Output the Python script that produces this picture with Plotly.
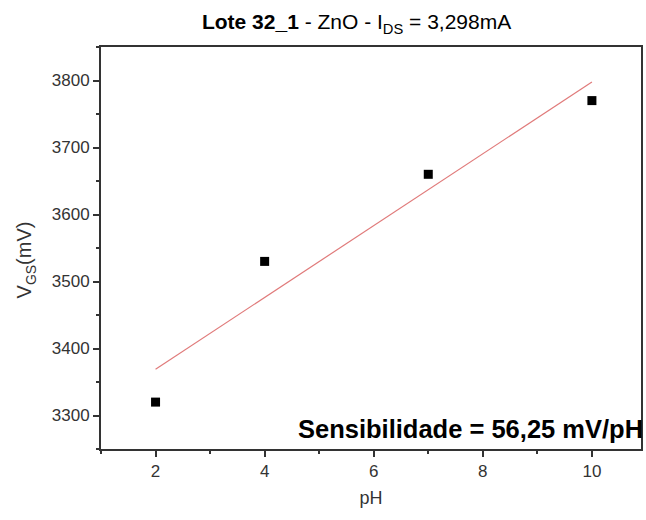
import numpy as np
import plotly.graph_objects as go

# Measured gate voltage versus buffer pH
ph = [2, 4, 7, 10]
vgs_mv = [3320, 3530, 3660, 3770]

x_ticks = [2, 4, 6, 8, 10]
y_ticks = [3300, 3400, 3500, 3600, 3700, 3800]

title_bold = "Lote 32_1"
title_rest = " - ZnO - I<sub>DS</sub> = 3,298mA"
sens_text = "Sensibilidade = 56,25 mV/pH"

# Linear regression over the measured points
slope, intercept = np.polyfit(ph, vgs_mv, 1)
fit_x = [min(ph), max(ph)]
fit_y = [slope * v + intercept for v in fit_x]

FONT = "Liberation Sans, Arial, sans-serif"
AX = "#333333"

fig = go.Figure()
fig.add_trace(go.Scatter(
    x=fit_x, y=fit_y, mode="lines",
    line=dict(color="#e07a7a", width=1.2),
    hoverinfo="skip", showlegend=False,
))
fig.add_trace(go.Scatter(
    x=ph, y=vgs_mv, mode="markers",
    marker=dict(symbol="square", size=9, color="black"),
    showlegend=False,
))

axis_common = dict(
    showline=True, linecolor=AX, linewidth=2, mirror=True,
    ticks="outside", ticklen=6, tickwidth=1.5, tickcolor=AX,
    showgrid=False, zeroline=False,
    tickfont=dict(family=FONT, size=17, color=AX),
)

fig.update_xaxes(
    range=[1, 10.9], tickvals=x_ticks,
    minor=dict(ticks="outside", ticklen=3, dtick=1, tickcolor=AX, tickwidth=1.5),
    title=dict(text="pH", font=dict(family=FONT, size=18, color=AX), standoff=11),
    **axis_common,
)
fig.update_yaxes(
    range=[3250, 3850], tickvals=y_ticks,
    minor=dict(ticks="outside", ticklen=3, dtick=50, tickcolor=AX, tickwidth=1.5),
    **axis_common,
)

fig.add_annotation(
    text="V<sub>GS</sub>(mV)", textangle=-90,
    xref="paper", yref="paper", x=-0.14, y=0.47,
    xanchor="center", yanchor="middle", showarrow=False,
    font=dict(family=FONT, size=20, color=AX),
)
fig.add_annotation(
    text=sens_text,
    xref="paper", yref="paper", x=1.005, y=0.05,
    xanchor="right", yanchor="middle", showarrow=False, borderpad=0,
    font=dict(family=FONT, size=25.5, color="black", weight="bold"),
)

fig.update_layout(
    width=646, height=520,
    margin=dict(l=101, r=3, t=47, b=71),
    paper_bgcolor="white", plot_bgcolor="white",
    title=dict(
        text=f"<b>{title_bold}</b>{title_rest}",
        x=0.552, xanchor="center", y=0.958, yanchor="middle",
        font=dict(family=FONT, size=21, color="black"),
    ),
)

fig.write_html("out.html")
